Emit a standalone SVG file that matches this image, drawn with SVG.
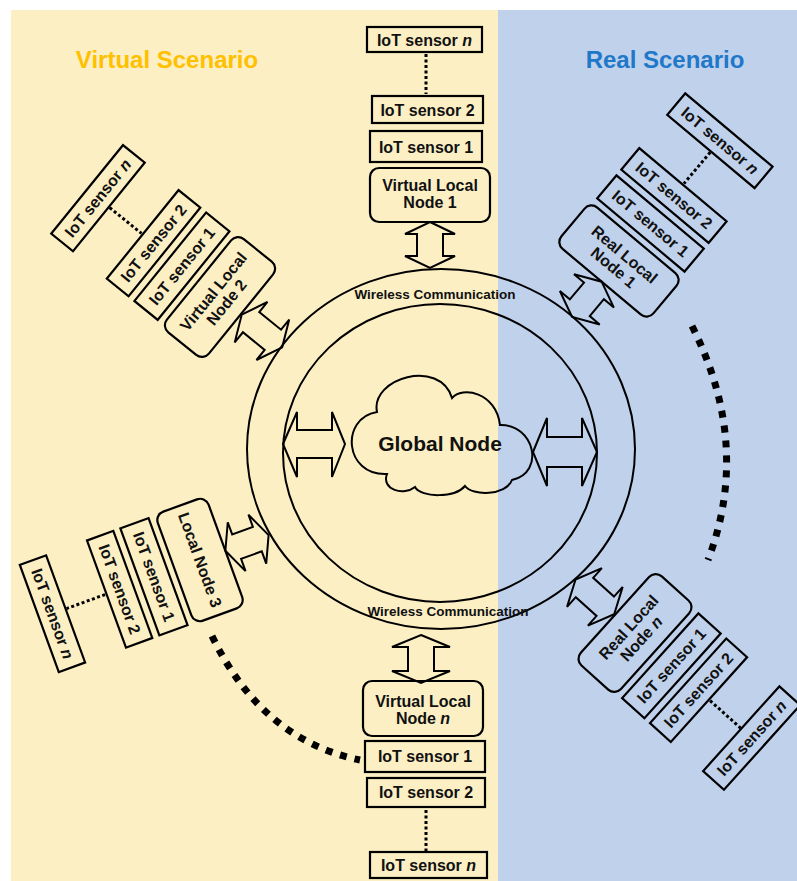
<svg xmlns="http://www.w3.org/2000/svg" width="797" height="881" viewBox="0 0 797 881">
<style>
.box{fill:none;stroke:#000;stroke-width:2.2}
.t{font-family:"Liberation Sans",Arial,sans-serif;font-weight:bold;font-size:16px;text-anchor:middle;fill:#111}
.arr{fill:none;stroke:#000;stroke-width:2;stroke-linejoin:miter}
.dot{fill:none;stroke:#000;stroke-width:3;stroke-dasharray:3 2.5}
.big{fill:none;stroke:#000;stroke-width:7;stroke-dasharray:7 8}
.ring{fill:none;stroke:#000;stroke-width:2}
.wc{font-family:"Liberation Sans",Arial,sans-serif;font-weight:bold;font-size:13.5px;text-anchor:middle;fill:#111}
.title{font-family:"Liberation Sans",Arial,sans-serif;font-weight:bold;font-size:24px;text-anchor:middle}
</style>
<rect x="11" y="10" width="487" height="871" fill="#FCEFC4"/>
<rect x="498" y="10" width="299" height="871" fill="#C0D1EC"/>
<text class="title" x="167" y="68" fill="#FFC000">Virtual Scenario</text>
<text class="title" x="665" y="68" fill="#1F78C8">Real Scenario</text>

<g id="global-node">
<ellipse class="ring" cx="441" cy="449" rx="194" ry="180"/>
<ellipse class="ring" cx="440" cy="453" rx="157" ry="149"/>
<text class="wc" x="435" y="299">Wireless Communication</text>
<text class="wc" x="448" y="616">Wireless Communication</text>
<path class="ring" d="M377,412 C370,378 440,358 452,398 C462,386 496,392 500,425 C534,424 546,472 512,480 C506,496 472,496 465,486 C455,498 421,498 415,487 C404,496 381,490 387,474 C344,476 340,418 377,412 Z"/>
<text class="t" x="440" y="451" style="font-size:21px">Global Node</text>
</g>

<g id="virtual-local-node-1">
<rect class="box" x="367" y="27" width="115" height="25"/>
<text class="t" x="424.5" y="45.5">IoT sensor <tspan font-style="italic">n</tspan></text>
<rect class="box" x="372" y="96" width="111" height="27"/>
<text class="t" x="427.5" y="115.5">IoT sensor 2</text>
<rect class="box" x="370" y="131" width="112" height="31"/>
<text class="t" x="426" y="152.5">IoT sensor 1</text>
<rect class="box" x="370" y="168" width="120" height="54" rx="9"/>
<text class="t" x="430" y="191">Virtual Local</text>
<text class="t" x="430" y="208">Node 1</text>
</g>

<g id="virtual-local-node-n">
<rect class="box" x="363" y="681" width="120" height="55" rx="9"/>
<text class="t" x="423" y="707">Virtual Local</text>
<text class="t" x="423" y="724">Node <tspan font-style="italic">n</tspan></text>
<rect class="box" x="365" y="741" width="120" height="31"/>
<text class="t" x="425" y="762">IoT sensor 1</text>
<rect class="box" x="367" y="778" width="118" height="29"/>
<text class="t" x="426" y="798">IoT sensor 2</text>
<rect class="box" x="370" y="852" width="117" height="26"/>
<text class="t" x="428.5" y="871">IoT sensor <tspan font-style="italic">n</tspan></text>
</g>

<g id="virtual-local-node-2" transform="translate(220,297) rotate(-51)">
<rect class="box" x="-60" y="-27" width="120" height="54" rx="9"/>
<text class="t" x="0" y="-3">Virtual Local</text>
<text class="t" x="0" y="14">Node 2</text>
<rect class="box" x="-57" y="-64" width="114" height="30"/>
<text class="t" x="0" y="-43.5">IoT sensor 1</text>
<rect class="box" x="-57" y="-99.5" width="114" height="28"/>
<text class="t" x="0" y="-80">IoT sensor 2</text>
<rect class="box" x="-57" y="-171" width="114" height="28"/>
<text class="t" x="0" y="-151.5">IoT sensor <tspan font-style="italic">n</tspan></text>
</g>

<g id="real-local-node-1" transform="translate(619,261) rotate(40)">
<rect class="box" x="-60" y="-27" width="120" height="54" rx="9"/>
<text class="t" x="0" y="-3">Real Local</text>
<text class="t" x="0" y="14">Node 1</text>
<rect class="box" x="-57" y="-64" width="114" height="30"/>
<text class="t" x="0" y="-43.5">IoT sensor 1</text>
<rect class="box" x="-57" y="-99.5" width="114" height="28"/>
<text class="t" x="0" y="-80">IoT sensor 2</text>
<rect class="box" x="-57" y="-171" width="114" height="28"/>
<text class="t" x="0" y="-151.5">IoT sensor <tspan font-style="italic">n</tspan></text>
</g>

<g id="local-node-3" transform="translate(200,560) rotate(70)">
<rect class="box" x="-58" y="-27" width="116" height="54" rx="9"/>
<text class="t" x="0" y="5.5">Local Node 3</text>
<rect class="box" x="-57" y="34" width="114" height="30"/>
<text class="t" x="0" y="54.5">IoT sensor 1</text>
<rect class="box" x="-57" y="71.5" width="114" height="28"/>
<text class="t" x="0" y="91">IoT sensor 2</text>
<rect class="box" x="-57" y="143" width="114" height="28"/>
<text class="t" x="0" y="162.5">IoT sensor <tspan font-style="italic">n</tspan></text>
</g>

<g id="real-local-node-n" transform="translate(635,633) rotate(-48)">
<rect class="box" x="-60" y="-27" width="120" height="54" rx="9"/>
<text class="t" x="0" y="-3">Real Local</text>
<text class="t" x="0" y="14">Node <tspan font-style="italic">n</tspan></text>
<rect class="box" x="-57" y="34" width="114" height="30"/>
<text class="t" x="0" y="54.5">IoT sensor 1</text>
<rect class="box" x="-57" y="71.5" width="114" height="28"/>
<text class="t" x="0" y="91">IoT sensor 2</text>
<rect class="box" x="-57" y="143" width="114" height="28"/>
<text class="t" x="0" y="162.5">IoT sensor <tspan font-style="italic">n</tspan></text>
</g>

<g id="connectors">
<line class="dot" x1="426" y1="54" x2="426" y2="94"/>
<line class="dot" x1="426" y1="810" x2="426" y2="851"/>
<line class="dot" x1="0" y1="-142" x2="0" y2="-101" transform="translate(220,297) rotate(-51)"/>
<line class="dot" x1="0" y1="-142" x2="0" y2="-101" transform="translate(619,261) rotate(40)"/>
<line class="dot" x1="0" y1="101" x2="0" y2="142" transform="translate(200,560) rotate(70)"/>
<line class="dot" x1="0" y1="101" x2="0" y2="142" transform="translate(635,633) rotate(-48)"/>
<polygon class="arr" points="430,222 455,234 443,234 443,256 455,256 430,268 405,256 417,256 417,234 405,234"/>
<polygon class="arr" points="421,635 450,647 434,647 434,671 450,671 421,683 392,671 408,671 408,647 392,647"/>
<polygon class="arr" points="0,28 26,40 13,40 13,68 26,68 0,80 -26,68 -13,68 -13,40 -26,40" transform="translate(220,297) rotate(-51)"/>
<polygon class="arr" points="0,27 26,39 13,39 13,61 26,61 0,73 -26,61 -13,61 -13,39 -26,39" transform="translate(619,261) rotate(40)"/>
<polygon class="arr" points="0,-27 26,-39 13,-39 13,-61 26,-61 0,-73 -26,-61 -13,-61 -13,-39 -26,-39" transform="translate(200,560) rotate(70)"/>
<polygon class="arr" points="0,-28 26,-40 13,-40 13,-68 26,-68 0,-80 -26,-68 -13,-68 -13,-40 -26,-40" transform="translate(635,633) rotate(-48)"/>
<polygon class="arr" points="283,444 297,412 297,430 332,430 332,412 345,444 332,477 332,458 297,458 297,477"/>
<polygon class="arr" points="533,452 547,418 547,437 582,437 582,418 597,452 582,486 582,467 547,467 547,486"/>
<path class="big" d="M692,326 Q752,445 708,560"/>
<path class="big" d="M212,636 Q262,740 360,760"/>
</g>
</svg>
